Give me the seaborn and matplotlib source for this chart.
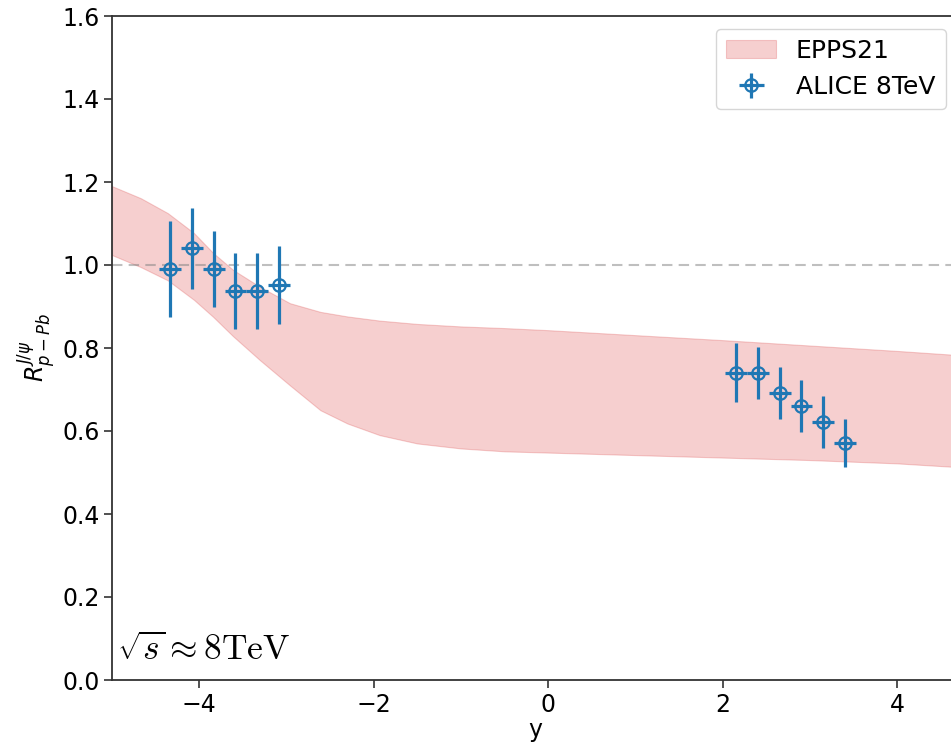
import matplotlib
matplotlib.use("Agg")
import matplotlib.pyplot as plt
import seaborn as sns
import numpy as np

# EPPS21 band
band_x = [-5.0, -4.67, -4.36, -4.06, -3.84, -3.61, -3.30, -2.96, -2.61, -2.30,
          -1.93, -1.50, -1.00, -0.50, 0.00, 1.00, 2.00, 3.00, 4.00, 4.70]
band_hi = [1.190, 1.161, 1.125, 1.077, 1.029, 0.988, 0.947, 0.908, 0.887, 0.876,
           0.866, 0.858, 0.852, 0.848, 0.843, 0.831, 0.819, 0.806, 0.793, 0.783]
band_lo = [1.024, 0.995, 0.963, 0.916, 0.875, 0.828, 0.770, 0.710, 0.650, 0.618,
           0.590, 0.570, 0.558, 0.551, 0.548, 0.542, 0.536, 0.530, 0.522, 0.513]

# ALICE 8 TeV data
alice_y = [-4.335, -4.085, -3.835, -3.585, -3.335, -3.085,
           2.155, 2.405, 2.655, 2.905, 3.155, 3.405]
alice_r = [0.99, 1.04, 0.99, 0.937, 0.937, 0.952,
           0.740, 0.740, 0.691, 0.660, 0.622, 0.571]
alice_err = [0.115, 0.097, 0.092, 0.092, 0.092, 0.093,
             0.071, 0.063, 0.063, 0.063, 0.063, 0.057]
alice_xerr = [0.125] * 12

y_ticks = [0.0, 0.2, 0.4, 0.6, 0.8, 1.0, 1.2, 1.4, 1.6]
x_ticks = [-4, -2, 0, 2, 4]

sns.set_theme(style="ticks", rc={
    "axes.edgecolor": "#333333",
    "axes.linewidth": 1.3,
    "xtick.major.size": 5.5,
    "ytick.major.size": 5.5,
    "xtick.major.width": 1.2,
    "ytick.major.width": 1.2,
    "text.color": "black",
    "axes.labelcolor": "black",
    "xtick.labelcolor": "black",
    "ytick.labelcolor": "black",
    "xtick.color": "#333333",
    "ytick.color": "#333333",
})
plt.rcParams["font.family"] = ["DejaVu Sans"]

fig = plt.figure(figsize=(9.51, 7.43), dpi=100)
ax = fig.add_axes([112 / 951, 63 / 743, (958 - 112) / 951, 664 / 743])

ax.fill_between(band_x, band_lo, band_hi, color="tab:red", alpha=0.22,
                linewidth=0.8, label="EPPS21")
ax.axhline(1.0, color="gray", linestyle="--", linewidth=1.5, alpha=0.5,
           dashes=(5, 3))
ax.errorbar(alice_y, alice_r, yerr=alice_err, xerr=alice_xerr, fmt="o",
            color="tab:blue", mfc="none", mec="tab:blue", ms=9, mew=1.6,
            elinewidth=2.3, label="ALICE 8TeV")

ax.set_xlim(-5, 4.7)
ax.set_ylim(0, 1.6)
ax.set_yticks(y_ticks)
ax.set_yticklabels([f"{v:.1f}" for v in y_ticks])
ax.set_xticks(x_ticks)
ax.set_xticklabels([f"{v}".replace("-", "\u2212") for v in x_ticks])
ax.tick_params(labelsize=17)
ax.set_xlabel("y", fontsize=17, labelpad=1)
ax.set_ylabel(r"$R^{J/\psi}_{p-Pb}$", fontsize=17, labelpad=3)

ax.text(0.006, 0.03, r"$\sqrt{s}\approx8\mathrm{TeV}$", transform=ax.transAxes,
        fontsize=25.5, math_fontfamily="cm", va="baseline", ha="left")

leg = ax.legend(loc="upper right", fontsize=18, frameon=True, fancybox=True)
leg.get_frame().set_edgecolor("#cccccc")

fig.savefig("out.png", dpi=100)
